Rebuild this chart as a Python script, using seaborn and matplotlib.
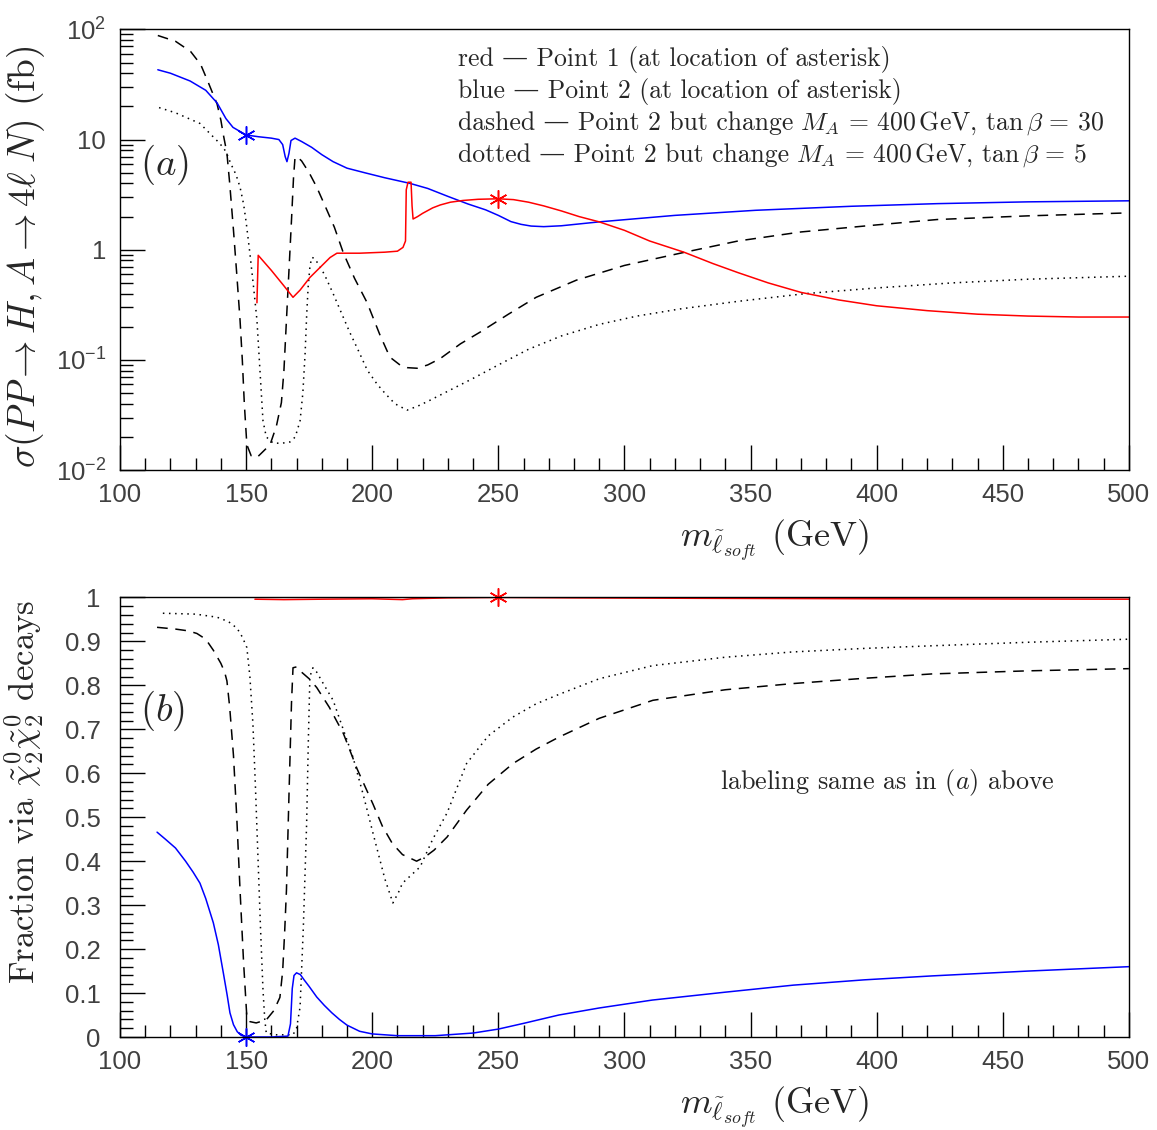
import matplotlib
matplotlib.use("Agg")
import matplotlib.pyplot as plt
import matplotlib.ticker as mticker
import numpy as np
import pandas as pd
import seaborn as sns

# ---- panel (a): cross section (fb) vs soft slepton mass (GeV) ----
red_a_x = [154.3, 154.8, 160, 165, 168.6, 171.4, 175.3, 179.3, 183.3, 186, 195, 205, 210,
           212.2, 213.2, 213.5, 214.2, 215.4, 215.8, 216.2, 218, 220, 224, 227, 231, 236,
           242, 250, 256, 262, 268, 275, 282, 290, 300, 310, 323.6, 335, 345, 357, 370,
           385, 400, 420, 440, 460, 480, 500]
red_a_y = [0.33, 0.89, 0.65, 0.47, 0.37, 0.43, 0.56, 0.69, 0.85, 0.93, 0.93, 0.95, 0.97,
           1.05, 1.2, 3.5, 4.1, 4.1, 2.5, 1.9, 2.0, 2.14, 2.4, 2.55, 2.7, 2.8,
           2.87, 2.9, 2.85, 2.7, 2.5, 2.25, 2.0, 1.79, 1.5, 1.2, 0.95, 0.75, 0.62, 0.5, 0.41,
           0.35, 0.31, 0.28, 0.26, 0.25, 0.245, 0.245]

blue_a_x = [115, 120, 127.8, 134, 138.5, 142, 144.8, 150, 155, 160, 163, 164.5, 165.5, 166.2,
            167, 167.8, 169.4, 172, 176, 180, 184.5, 190, 197, 205, 215, 222, 230, 238,
            245, 250, 255, 259, 263, 268, 275, 290, 320, 352, 390, 424, 460, 500]
blue_a_y = [43, 40, 34, 28, 21.5, 15.5, 12.9, 11, 10.6, 10.3, 10.0, 9.0, 7.0, 6.3,
            7.5, 9.8, 10.3, 9.6, 8.5, 7.3, 6.3, 5.5, 5.0, 4.5, 4.0, 3.6, 3.05, 2.6,
            2.3, 2.05, 1.8, 1.7, 1.64, 1.62, 1.65, 1.79, 2.05, 2.28, 2.48, 2.62, 2.72, 2.78]

dashed_a_x = [115, 122, 128, 132, 135, 138.5, 140, 141, 142.4, 143.5, 145, 146.3, 147.6,
              148.5, 149.3, 150.3, 152, 154.3, 159.5, 162, 164, 165, 166, 167, 168, 168.8,
              169.4, 170.2, 172, 175, 178, 182, 185, 188.6, 193, 198, 203, 207, 211, 214,
              217.8, 222, 227, 235, 243, 254, 265, 281, 300, 324, 345, 370, 400, 424, 460, 500]
dashed_a_y = [88, 78, 63, 48, 33, 21, 15, 11, 7.5, 4.0, 1.5, 0.6, 0.23,
              0.1, 0.04, 0.017, 0.0135, 0.013, 0.017, 0.025, 0.041, 0.08, 0.23, 0.65, 1.86, 4.5,
              6.9, 7.0, 6.4, 5.0, 3.7, 2.3, 1.6, 0.93, 0.55, 0.33, 0.17, 0.106, 0.09, 0.085,
              0.084, 0.09, 0.103, 0.14, 0.18, 0.26, 0.37, 0.53, 0.72, 0.95, 1.2, 1.45, 1.68,
              1.88, 2.03, 2.16]

dotted_a_x = [115.5, 122, 131.7, 139.6, 142, 144, 146, 147.6, 149, 150, 151.5, 153, 154.3,
              155.5, 156.7, 158, 160.7, 164, 167.4, 169.5, 171.4, 172.5, 173.4, 174, 174.6,
              175.3, 176, 177, 178, 181, 184.5, 188, 191, 195, 198, 202, 205, 209, 213.8,
              218, 222, 230, 240, 250, 262, 275, 290, 305, 322, 345, 372, 400, 430, 460, 500]
dotted_a_y = [19.5, 17.5, 14, 9.2, 7.8, 6.0, 4.8, 3.7, 2.6, 1.8, 0.93, 0.45, 0.23,
              0.08, 0.028, 0.02, 0.0176, 0.0175, 0.018, 0.02, 0.028, 0.05, 0.115, 0.25, 0.46,
              0.7, 0.85, 0.84, 0.78, 0.6, 0.40, 0.26, 0.18, 0.115, 0.081, 0.06, 0.05, 0.04, 0.035,
              0.038, 0.042, 0.052, 0.068, 0.09, 0.125, 0.165, 0.21, 0.25, 0.29, 0.34, 0.40,
              0.45, 0.50, 0.54, 0.575]

# ---- panel (b): fraction via chi2 chi2 decays ----
red_b_x = [153.5, 165, 180, 200, 212, 216, 230, 250, 280, 330, 400, 500]
red_b_y = [0.996, 0.995, 0.996, 0.997, 0.995, 0.997, 0.999, 1.0, 0.999, 0.998, 0.997, 0.996]

blue_b_x = [114.7, 118, 122, 126, 129, 131.7, 134, 137, 139, 141, 142.5, 143.6, 145, 146.5,
            148, 150, 155, 160, 166.6, 167.6, 168.3, 169, 170, 171.5, 173, 175, 178, 181,
            184, 187, 190, 195, 200, 210, 225, 240, 250, 260, 274, 290, 311, 340, 367, 395,
            422, 460, 500]
blue_b_y = [0.466, 0.45, 0.43, 0.40, 0.375, 0.35, 0.315, 0.26, 0.21, 0.145, 0.095, 0.055,
            0.028, 0.012, 0.004, 0.0, 0.0, 0.0, 0.002, 0.03, 0.11, 0.14, 0.146, 0.142, 0.13,
            0.115, 0.091, 0.072, 0.055, 0.04, 0.027, 0.013, 0.007, 0.003, 0.003, 0.009, 0.018,
            0.031, 0.05, 0.066, 0.084, 0.102, 0.118, 0.13, 0.139, 0.15, 0.16]

dashed_b_x = [114.7, 122, 127, 130.5, 134, 137, 140, 141.5, 142.4, 143.5, 145, 146.3, 147.6,
              149, 150.3, 151.5, 154, 158, 161, 163.4, 164.5, 165.3, 166, 167, 168, 168.6,
              170, 172, 175, 178, 183, 188.6, 194, 200.3, 204, 208, 212, 217.6, 221, 224.5,
              229.7, 237.4, 246, 255.8, 265, 274.3, 290, 311.3, 340, 366.7, 395, 422, 460, 500]
dashed_b_y = [0.932, 0.928, 0.924, 0.918, 0.905, 0.88, 0.85, 0.83, 0.81, 0.75, 0.64, 0.50,
              0.334, 0.17, 0.045, 0.035, 0.032, 0.039, 0.06, 0.09, 0.15, 0.24, 0.334, 0.55,
              0.76, 0.84, 0.842, 0.83, 0.815, 0.795, 0.75, 0.69, 0.61, 0.53, 0.48, 0.44, 0.415,
              0.40, 0.41, 0.425, 0.455, 0.516, 0.575, 0.622, 0.655, 0.683, 0.725, 0.766, 0.79,
              0.804, 0.816, 0.826, 0.833, 0.838]

dotted_b_x = [117, 130, 138.5, 143, 146.4, 148.5, 150.3, 151.5, 152.7, 153.7, 154.7, 155.7,
              156.7, 157.4, 158, 162, 168.6, 170, 171.4, 172.7, 174, 174.7, 175.3, 176.5, 178,
              181, 184.5, 188.5, 192.4, 196.5, 200.3, 205, 208.2, 210.5, 212, 219, 224, 229.7,
              237.4, 246, 255.8, 265, 274.3, 290, 311.3, 340, 366.7, 395, 422, 460, 500]
dotted_b_y = [0.964, 0.962, 0.955, 0.945, 0.93, 0.91, 0.886, 0.82, 0.713, 0.57, 0.41, 0.25,
              0.107, 0.04, 0.009, 0.005, 0.005, 0.02, 0.068, 0.25, 0.486, 0.68, 0.82, 0.84, 0.83,
              0.80, 0.766, 0.70, 0.636, 0.55, 0.464, 0.36, 0.305, 0.33, 0.35, 0.387, 0.45, 0.51,
              0.622, 0.685, 0.728, 0.758, 0.78, 0.815, 0.845, 0.864, 0.876, 0.884, 0.89, 0.898,
              0.905]

# asterisks marking the benchmark points
star_a_x = [150, 250]
star_a_y = [11, 2.9]
star_b_x = [150, 250]
star_b_y = [0.0, 1.0]
star_colors = ["blue", "red"]

log_ticks = [0.01, 0.1, 1, 10, 100]
log_tick_labels = [r"$\mathdefault{10^{-2}}$", r"$\mathdefault{10^{-1}}$", "1", "10",
                   r"$\mathdefault{10^{2}}$"]

legend_prefix = [
    "red — Point 1 (at location of asterisk)",
    "blue — Point 2 (at location of asterisk)",
    "dashed — Point 2 but change",
    "dotted — Point 2 but change",
]
legend_math = [
    "",
    "",
    r"$M_A\, =\, 400\,\mathrm{GeV}$, $\tan\beta\, =\, 30$",
    r"$M_A\, =\, 400\,\mathrm{GeV}$, $\tan\beta\, =\, 5$",
]

sns.set_theme(style="ticks")
plt.rcParams["font.family"] = ["Liberation Sans", "DejaVu Sans"]
plt.rcParams["mathtext.fontset"] = "cm"
SERIF = ["cmr10", "DejaVu Serif"]

fig = plt.figure(figsize=(11.57, 11.3), dpi=100)
ax1 = fig.add_axes([0.1037, 0.584, 0.872, 0.390])
ax2 = fig.add_axes([0.1037, 0.0823, 0.872, 0.389])

styles = {
    "red": dict(color="#ff0000", linestyle="-"),
    "blue": dict(color="#0000ff", linestyle="-"),
    "dashed": dict(color="black", linestyle=(0, (7, 5))),
    "dotted": dict(color="black", linestyle=(0, (1, 3))),
}

panel_a = [("dashed", dashed_a_x, dashed_a_y), ("dotted", dotted_a_x, dotted_a_y),
           ("blue", blue_a_x, blue_a_y), ("red", red_a_x, red_a_y)]
panel_b = [("dashed", dashed_b_x, dashed_b_y), ("dotted", dotted_b_x, dotted_b_y),
           ("blue", blue_b_x, blue_b_y), ("red", red_b_x, red_b_y)]

for ax, series in [(ax1, panel_a), (ax2, panel_b)]:
    for name, xs, ys in series:
        df = pd.DataFrame({"m": xs, "v": ys})
        sns.lineplot(data=df, x="m", y="v", ax=ax, linewidth=1.1, estimator=None,
                     **styles[name])

for ax, sx, sy in [(ax1, star_a_x, star_a_y), (ax2, star_b_x, star_b_y)]:
    for xv, yv, c in zip(sx, sy, star_colors):
        ax.plot([xv], [yv], linestyle="none", marker=(6, 2, 0), markersize=13,
                markeredgewidth=1.1, color=c, clip_on=False)

# axes ranges and ticks
ax1.set_yscale("log")
ax1.set_ylim(0.01, 100)
ax1.yaxis.set_major_locator(mticker.FixedLocator(log_ticks))
ax1.yaxis.set_major_formatter(mticker.FixedFormatter(log_tick_labels))
ax1.yaxis.set_minor_locator(mticker.LogLocator(base=10, subs=np.arange(2, 10)))
ax1.yaxis.set_minor_formatter(mticker.NullFormatter())

ax2.set_ylim(0, 1)
ax2.yaxis.set_major_locator(mticker.MultipleLocator(0.1))
ax2.yaxis.set_minor_locator(mticker.MultipleLocator(0.02))
ax2.yaxis.set_major_formatter(mticker.FuncFormatter(lambda v, p: f"{v:g}"))

for ax in (ax1, ax2):
    ax.set_xlim(100, 500)
    ax.xaxis.set_major_locator(mticker.MultipleLocator(50))
    ax.xaxis.set_minor_locator(mticker.MultipleLocator(10))
    ax.tick_params(which="both", direction="in", top=False, right=False,
                   colors="black", labelcolor="#404040", labelsize=18.5, width=1)
    ax.tick_params(which="major", length=18)
    ax.tick_params(which="minor", length=9)
    ax.tick_params(axis="x", which="both", pad=9)
    for s in ax.spines.values():
        s.set_visible(True)
        s.set_color("black")
        s.set_linewidth(1.0)
    ax.set_xlabel(r"$m_{\tilde{\ell}_{soft}}$ (GeV)", fontsize=26, family=SERIF)
    ax.xaxis.set_label_coords(0.649, -0.109)

ax1.tick_params(axis="y", which="both", pad=10)
ax2.tick_params(axis="y", which="both", pad=14)

ax1.set_ylabel(r"$\sigma(PP \to H, A \to 4\ell\; N)$ (fb)", fontsize=27, family=SERIF)
ax1.yaxis.set_label_coords(-0.072, 0.483)
ax2.set_ylabel(r"Fraction via $\tilde{\chi}^0_2\tilde{\chi}^0_2$ decays", fontsize=25,
               family=SERIF)
ax2.yaxis.set_label_coords(-0.073, 0.557)

ax1.text(0.02, 0.692, r"$(a)$", transform=ax1.transAxes, fontsize=28, va="center")
ax2.text(0.02, 0.743, r"$(b)$", transform=ax2.transAxes, fontsize=28, va="center")

# legend lines: plain text part, then the math part placed right after it
renderer = fig.canvas.get_renderer()
for i, (pre, math) in enumerate(zip(legend_prefix, legend_math)):
    yb = 0.917 - i * 0.0726
    t = ax1.text(0.335, yb, pre, transform=ax1.transAxes, fontsize=18.5,
                 va="baseline", ha="left", family=SERIF)
    if math:
        x1 = t.get_window_extent(renderer=renderer).x1 + 7
        xa = ax1.transAxes.inverted().transform((x1, 0))[0]
        ax1.text(xa, yb, math, transform=ax1.transAxes, fontsize=18.5,
                 va="baseline", ha="left", family=SERIF)

ax2.text(0.595, 0.58, r"labeling same as in $(a)$ above", transform=ax2.transAxes,
         fontsize=18.8, va="center", ha="left", family=SERIF)

fig.savefig("out.png", dpi=100)
plt.close(fig)
